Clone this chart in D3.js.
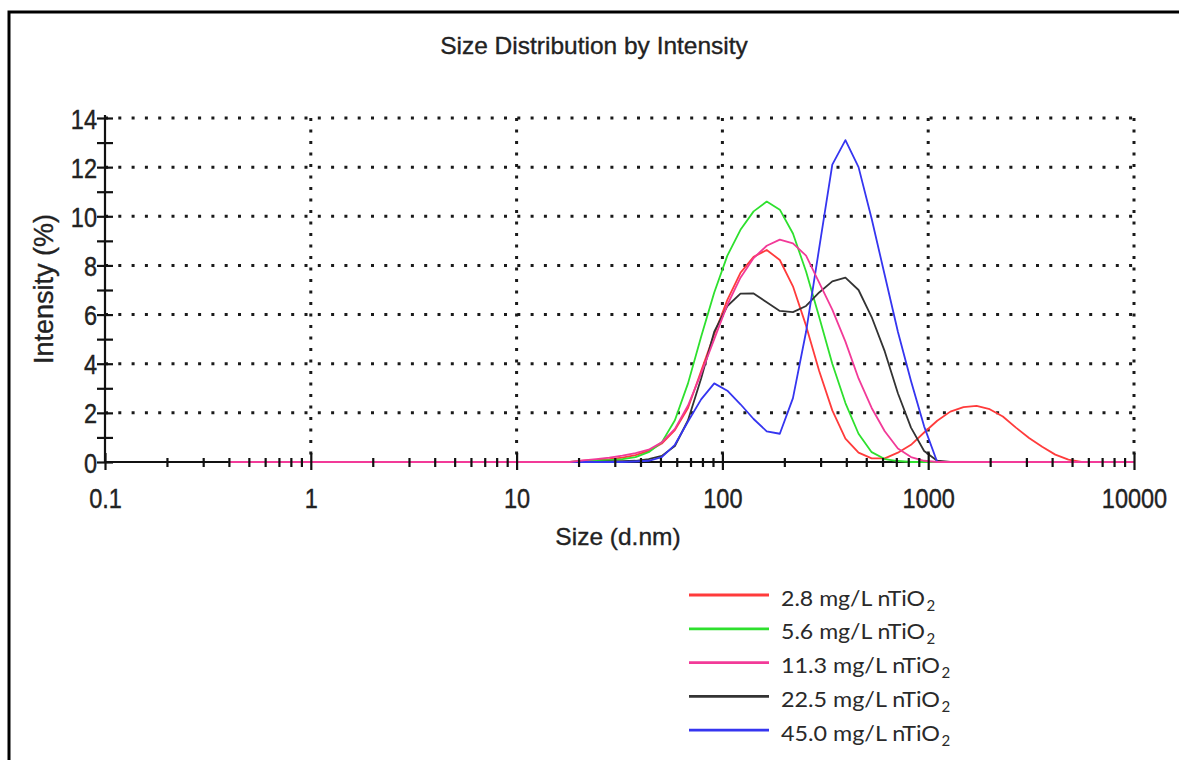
<!DOCTYPE html>
<html><head><meta charset="utf-8">
<script src="https://cdn.jsdelivr.net/npm/d3@7"></script>
<style>body{margin:0;background:#fff}svg{display:block}</style>
</head><body>
<svg id="c" width="1179" height="760"></svg>
<script>
// ---- data ----
const sizes = [0.4,0.4632,0.5365,0.6213,0.7195,0.8332,0.9649,1.117,1.294,1.499,1.736,2.01,2.328,2.696,3.122,3.615,4.187,4.849,5.615,6.503,7.531,8.721,10.1,11.7,13.54,15.69,18.17,21.04,24.36,28.21,32.67,37.84,43.82,50.75,58.77,68.06,78.82,91.28,105.7,122.4,141.8,164.2,190.1,220.2,255.0,295.3,342.0,396.1,458.7,531.2,615.1,712.4,825.0,955.4,1106,1281,1484,1718,1990,2305,2669,3091,3580,4145,4801,5560,6439,7456,8635,10000];
const Z27 = [0,0,0,0,0,0,0,0,0,0,0,0,0,0,0,0,0,0,0,0,0,0,0,0,0,0,0];
const int28 = Z27.concat([0.05,0.08,0.12,0.18,0.28,0.45,0.75,1.3,2.2,3.7,5.2,6.6,7.7,8.35,8.63,8.22,7.15,5.55,3.7,2.1,0.95,0.38,0.15,0.15,0.38,0.7,1.2,1.68,2.05,2.23,2.28,2.15,1.85,1.4,0.98,0.62,0.3,0.1,0,0,0,0,0]);
const int56 = Z27.concat([0.03,0.05,0.08,0.12,0.2,0.4,0.8,1.7,3.2,5.1,6.9,8.4,9.45,10.2,10.6,10.27,9.3,7.75,5.9,4.0,2.4,1.15,0.4,0.12,0.04,0,0,0,0,0,0,0,0,0,0,0,0,0,0,0,0,0,0]);
const int113 = Z27.concat([0.07,0.12,0.18,0.26,0.36,0.5,0.8,1.35,2.3,3.6,5.0,6.4,7.5,8.3,8.8,9.05,8.9,8.4,7.3,6.2,4.9,3.4,2.2,1.25,0.55,0.2,0.05,0,0,0,0,0,0,0,0,0,0,0,0,0,0,0,0]);
const int225 = Z27.concat([0,0,0.02,0.03,0.05,0.12,0.25,0.65,1.7,3.4,5.3,6.35,6.85,6.86,6.5,6.15,6.1,6.35,6.9,7.35,7.5,7.0,5.9,4.5,2.8,1.4,0.45,0.05,0,0,0,0,0,0,0,0,0,0,0,0,0,0,0]);
const int450 = Z27.concat([0,0,0,0,0.02,0.05,0.2,0.7,1.65,2.55,3.2,2.9,2.35,1.75,1.25,1.15,2.6,5.3,8.7,12.1,13.1,12.0,9.9,7.6,5.3,3.3,1.45,0,0,0,0,0,0,0,0,0,0,0,0,0,0,0,0]);
const seriesLabels = ["2.8 mg/L nTiO","5.6 mg/L nTiO","11.3 mg/L nTiO","22.5 mg/L nTiO","45.0 mg/L nTiO"];
const seriesColors = ["#ff3b3b","#2ee02e","#f23a98","#333333","#3535f0"];
const xMajorTicks = [0.1,1,10,100,1000,10000];
const xTickLabels = ["0.1","1","10","100","1000","10000"];
const yTicks = [0,2,4,6,8,10,12,14];
const titleText = "Size Distribution by Intensity";
const xTitle = "Size (d.nm)";
const yTitle = "Intensity (%)";

// ---- layout ----
const svg = d3.select("#c");
const L = 105, R = 1134, T = 118, B = 462;
const x = d3.scaleLog().domain([0.1, 10000]).range([L, R]);
const y = d3.scaleLinear().domain([0, 14]).range([B, T]);
const FONT = "'Liberation Sans', Arial, sans-serif";

// border
svg.append("rect").attr("x", 9).attr("y", 12).attr("width", 1200).attr("height", 800)
  .attr("fill", "none").attr("stroke", "#000").attr("stroke-width", 3);

// title
svg.append("text").attr("x", 594).attr("y", 54).attr("text-anchor", "middle")
  .attr("font-family", FONT).attr("font-size", 24.5).attr("fill", "#222")
  .attr("stroke", "#222").attr("stroke-width", 0.35).text(titleText);

// grid
const g = svg.append("g");
g.selectAll(".hg").data(yTicks.filter(d => d > 0)).join("line")
  .attr("x1", L).attr("x2", R).attr("y1", d => y(d)).attr("y2", d => y(d))
  .attr("stroke", "#1a1a1a").attr("stroke-width", 3).attr("stroke-dasharray", "3,10.3");
g.selectAll(".vg").data(xMajorTicks.filter(d => d > 0.1)).join("line")
  .attr("x1", d => x(d)).attr("x2", d => x(d)).attr("y1", T).attr("y2", B)
  .attr("stroke", "#1a1a1a").attr("stroke-width", 3).attr("stroke-dasharray", "3,8.5");

// axis base lines
svg.append("line").attr("x1", L).attr("x2", R).attr("y1", B).attr("y2", B).attr("stroke", "#111").attr("stroke-width", 2.2);
svg.append("line").attr("x1", L).attr("x2", L).attr("y1", T - 3).attr("y2", B).attr("stroke", "#111").attr("stroke-width", 2.2);

// curves
const line = d3.line().x(d => x(d[0])).y(d => y(d[1]));
const allSeries = [int28, int56, int113, int225, int450];
const order = [0, 1, 3, 4, 2];
order.forEach(i => {
  svg.append("path").datum(sizes.map((s, k) => [s, allSeries[i][k]]))
    .attr("d", line).attr("fill", "none").attr("stroke", seriesColors[i])
    .attr("stroke-width", 1.8).attr("stroke-linejoin", "round");
});

// x axis ticks
const minor = [];
for (let e = -1; e < 4; e++) for (let m = 2; m <= 9; m++) minor.push(m * Math.pow(10, e));
const xAxis = d3.axisBottom(x).tickValues(xMajorTicks.concat(minor)).tickSize(0).tickPadding(0)
  .tickFormat(d => { const i = xMajorTicks.indexOf(d); return i >= 0 ? xTickLabels[i] : ""; });
const xg = svg.append("g").attr("transform", `translate(0,${B})`).call(xAxis);
xg.select(".domain").remove();
xg.selectAll(".tick line").attr("y1", d => xMajorTicks.includes(d) ? -9 : -4)
  .attr("y2", d => xMajorTicks.includes(d) ? 8 : 5).attr("stroke", "#111").attr("stroke-width", 2.2);
xg.selectAll(".tick text").attr("y", 46).attr("dy", 0).attr("font-family", FONT).attr("font-size", 28).attr("fill", "#222");

// y axis ticks
const yAxis = d3.axisLeft(y).tickValues(d3.range(0, 15)).tickSize(0).tickPadding(0)
  .tickFormat(d => yTicks.includes(d) ? String(d) : "");
const yg = svg.append("g").attr("transform", `translate(${L},0)`).call(yAxis);
yg.select(".domain").remove();
yg.selectAll(".tick line").attr("x1", -8).attr("x2", 8).attr("stroke", "#111").attr("stroke-width", 2.2);
yg.selectAll(".tick text").attr("x", -8).attr("dy", 0).attr("y", 10).attr("font-family", FONT).attr("font-size", 28).attr("fill", "#222");

// compress digits
svg.selectAll(".tick text").each(function() {
  const t = this; const n = t.getComputedTextLength();
  if (n > 0) { t.setAttribute("textLength", n * 0.84); t.setAttribute("lengthAdjust", "spacingAndGlyphs"); }
}).attr("stroke", "#222").attr("stroke-width", 0.4);

// axis titles
svg.append("text").attr("x", 618).attr("y", 545).attr("text-anchor", "middle")
  .attr("font-family", FONT).attr("font-size", 24.5).attr("fill", "#222")
  .attr("stroke", "#222").attr("stroke-width", 0.35).text(xTitle);
svg.append("text").attr("transform", "translate(53,289) rotate(-90)").attr("text-anchor", "middle")
  .attr("font-family", FONT).attr("font-size", 27).attr("fill", "#222")
  .attr("stroke", "#222").attr("stroke-width", 0.35).text(yTitle);

// legend
const LF = "Lato, 'Open Sans', sans-serif";
seriesLabels.forEach((lab, i) => {
  const ly = 595 + i * 33.8;
  svg.append("line").attr("x1", 689).attr("x2", 769).attr("y1", ly).attr("y2", ly)
    .attr("stroke", seriesColors[i]).attr("stroke-width", 2.8);
  const w = lab.length === 13 ? 144 : 159;
  svg.append("text").attr("x", 781).attr("y", ly + 10.5).attr("font-family", LF).attr("font-size", 21)
    .attr("fill", "#2a2a2a").attr("textLength", w).attr("lengthAdjust", "spacingAndGlyphs").text(lab);
  svg.append("text").attr("x", 781 + w + 1.5).attr("y", ly + 15.5).attr("font-family", LF).attr("font-size", 15)
    .attr("fill", "#2a2a2a").text("2");
});
</script>
</body></html>
